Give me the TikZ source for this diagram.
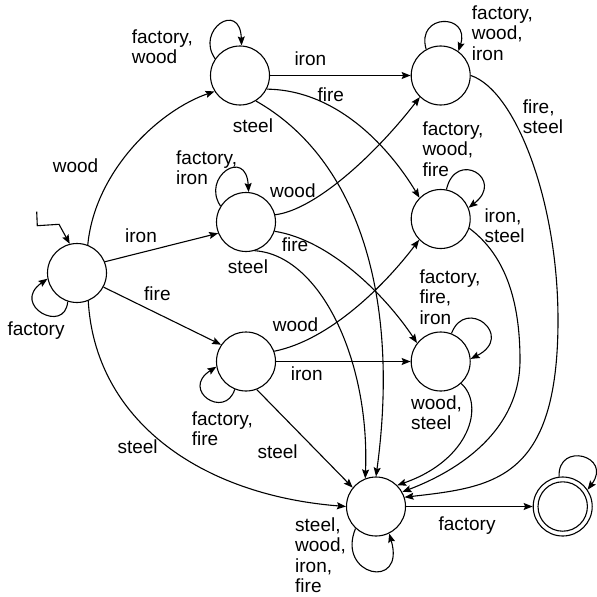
\documentclass[tikz,border=0pt]{standalone}
\usepackage{fontspec}
\setmainfont{Liberation Sans}
\usetikzlibrary{arrows.meta}
\begin{document}
\begin{tikzpicture}[x=1pt,y=-1pt,
  every node/.style={font=\fontsize{19}{20.3}\selectfont},
  state/.style={circle,draw,line width=1.1pt,minimum size=59pt,inner sep=0pt},
  edge/.style={draw,line width=1.1pt,-{Stealth[length=9pt,width=7pt,inset=1.5pt]}},
  lbl/.style={anchor=base west,inner sep=0pt,align=left}]
\useasboundingbox (0,0) rectangle (597,597);
% states
\node[state] (S) at (77,273) {};
\node[state] (A) at (240,75.5) {};
\node[state] (B) at (246,222) {};
\node[state] (C) at (246,361.5) {};
\node[state] (D) at (440.7,75.5) {};
\node[state] (E) at (440.7,219) {};
\node[state] (F) at (440.7,361.5) {};
\node[state] (G) at (376,506.5) {};
\node[state] (H) at (562.7,506.5) {};
\draw[line width=1.1pt] (H.center) circle[radius=24.7];
% initial arrow
\coordinate (init) at (36.7,211.7);
\coordinate (i1) at (37.3,225.7);
\coordinate (i2) at (59,224.3);
\draw[edge] (init) -- (i1) -- (i2) -- (S.104);
% from S
\draw[edge] (S.252) .. controls (65,335) and (10,305) .. (S.191);
\draw[edge] (S.69) .. controls (95,170) and (160,110) .. (A.212);
\draw[edge] (S.22) -- (B.202);
\draw[edge] (S.-28) -- (C.146);
\draw[edge] (S.-68) .. controls (95,420) and (200,495) .. (G.180);
% from A
\draw[edge] (A.146) .. controls (195,30) and (240,0) .. (A.87);
\draw[edge] (A) -- (D);
\draw[edge] (A.-27) .. controls (340,90) and (392,152) .. (E.135);
\draw[edge] (A.-58) .. controls (360,160) and (400,300) .. (G.90);
% from B
\draw[edge] (B.148) .. controls (201,177) and (246,147) .. (B.85);
\draw[edge] (B.14) .. controls (315,210) and (375,155) .. (D.226);
\draw[edge] (B.-18) .. controls (330,240) and (385,295) .. (F.142);
\draw[edge] (B.-73) .. controls (320,255) and (370,360) .. (G.111);
% from C
\draw[edge] (C.248) .. controls (225,420) and (180,390) .. (C.190);
\draw[edge] (C.20) .. controls (330,340) and (385,285) .. (E.224);
\draw[edge] (C) -- (F);
\draw[edge] (C.-69) -- (G.141);
% from D
\draw[edge] (D.119) .. controls (415.7,13) and (470.7,13) .. (D.54);
\coordinate (dg) at (558,320);
\draw[edge] (D.0) .. controls (515,90) and (558,200) .. (dg) .. controls (558,480) and (494,487) .. (G.18);
% from E
\draw[edge] (E.79) .. controls (455.7,149) and (505.7,179) .. (E.22);
\coordinate (eg) at (520,360);
\draw[edge] (E.-18) .. controls (505,255) and (520,300) .. (eg) .. controls (520,430) and (460,470) .. (G.29);
% from F
\draw[edge] (F.69) .. controls (465.7,296) and (515.7,336) .. (F.5);
\draw[edge] (F.-47) .. controls (485,405) and (470,460) .. (G.45);
% from G
\draw[edge] (G.227) .. controls (336,576) and (406,591) .. (G.296);
\draw[edge] (G) -- (H);
% H
\draw[edge] (H.97) .. controls (557.7,441) and (612.7,456) .. (H.34);
% labels (multi-line: position is the baseline of the last line)
\node[lbl] (lS) at (7.3,335) {factory};
\node[lbl] (lSA) at (52.7,172.3) {wood};
\node[lbl] (lSB) at (125,242.3) {iron};
\node[lbl] (lSC) at (144,300) {fire};
\node[lbl] (lSG) at (117.3,453.3) {steel};
\node[lbl] (lA) at (131.7,63.3) {factory,\\wood};
\node[lbl] (lAD) at (294.3,65) {iron};
\node[lbl] (lAE) at (317.3,101.7) {fire};
\node[lbl] (lAG) at (232.7,132.7) {steel};
\node[lbl] (lB) at (176,184.3) {factory,\\iron};
\node[lbl] (lBD) at (270,197.3) {wood};
\node[lbl] (lBF) at (281.7,251.7) {fire};
\node[lbl] (lBG) at (227.7,273.3) {steel};
\node[lbl] (lCE) at (272.7,331.7) {wood};
\node[lbl] (lCF) at (290.7,380.7) {iron};
\node[lbl] (lC) at (191.7,445.3) {factory,\\fire};
\node[lbl] (lCG) at (257.3,458.3) {steel};
\node[lbl] (lG) at (295,592.3) {steel,\\wood,\\iron,\\fire};
\node[lbl] (lFG) at (411,429.3) {wood,\\steel};
\node[lbl] (lGH) at (438.3,530) {factory};
\node[lbl] (lD) at (471.7,60) {factory,\\wood,\\iron};
\node[lbl] (lE) at (422.3,176) {factory,\\wood,\\fire};
\node[lbl] (lF) at (419.3,324) {factory,\\fire,\\iron};
\node[lbl] (lDG) at (522.7,133.3) {fire,\\steel};
\node[lbl] (lEG) at (484.3,242.7) {iron,\\steel};
\end{tikzpicture}
\end{document}
